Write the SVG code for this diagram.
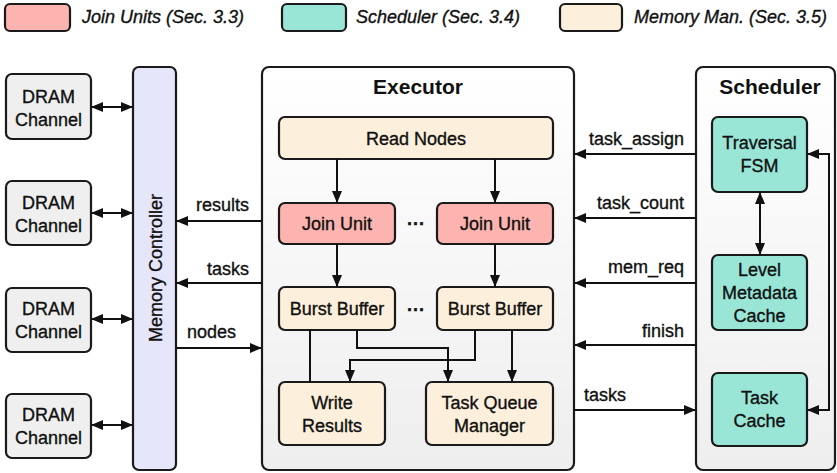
<svg xmlns="http://www.w3.org/2000/svg" width="837" height="473" viewBox="0 0 837 473">
  <defs>
    <linearGradient id="panelFill" x1="0" y1="0" x2="0" y2="1">
      <stop offset="0" stop-color="#ffffff"/>
      <stop offset="1" stop-color="#eeeeee"/>
    </linearGradient>
    <marker id="arrowEnd" viewBox="0 0 12 10" refX="11" refY="5" markerWidth="12" markerHeight="10" markerUnits="userSpaceOnUse" orient="auto">
      <path d="M0,0 L12,5 L0,10 Z" fill="#111"/>
    </marker>
    <marker id="arrowStart" viewBox="0 0 12 10" refX="1" refY="5" markerWidth="12" markerHeight="10" markerUnits="userSpaceOnUse" orient="auto">
      <path d="M12,0 L0,5 L12,10 Z" fill="#111"/>
    </marker>
  </defs>
  <style>
    .box { stroke: #1a1a1a; stroke-width: 2.2; }
    .panel { fill: url(#panelFill); stroke: #1a1a1a; stroke-width: 2.2; }
    .dram { fill: #efefef; }
    .mem { fill: #fcf0dc; }
    .join { fill: #fdb4b0; }
    .sched { fill: #99e6d7; }
    .ctrl { fill: #e6e6fa; }
    text { font-family: "Liberation Sans", Arial, Helvetica, sans-serif; font-size: 18px; fill: #111; stroke: #111; stroke-width: 0.35; }
    .node { text-anchor: middle; dominant-baseline: central; }
    .title { font-weight: bold; font-size: 21px; text-anchor: middle; stroke-width: 0; }
    .legend { font-style: italic; }
    .end { text-anchor: end; }
    .wire { fill: none; stroke: #111; stroke-width: 2; }
  </style>

  <!-- legend -->
  <g id="legend">
    <rect class="box join" x="5" y="4" width="65" height="27" rx="5"/>
    <text class="legend" x="82" y="23">Join Units (Sec. 3.3)</text>
    <rect class="box sched" x="282" y="4" width="64" height="27" rx="5"/>
    <text class="legend" x="356" y="23">Scheduler (Sec. 3.4)</text>
    <rect class="box mem" x="560" y="4" width="62" height="27" rx="5"/>
    <text class="legend" x="634" y="23">Memory Man. (Sec. 3.5)</text>
  </g>

  <!-- DRAM channels -->
  <g id="dram1">
    <rect class="box dram" x="6" y="74" width="85" height="65" rx="6"/>
    <text class="node" x="48.5" y="97">DRAM</text>
    <text class="node" x="48.5" y="120">Channel</text>
  </g>
  <g id="dram2">
    <rect class="box dram" x="6" y="181" width="85" height="64" rx="6"/>
    <text class="node" x="48.5" y="203">DRAM</text>
    <text class="node" x="48.5" y="226">Channel</text>
  </g>
  <g id="dram3">
    <rect class="box dram" x="6" y="288" width="85" height="64" rx="6"/>
    <text class="node" x="48.5" y="309">DRAM</text>
    <text class="node" x="48.5" y="332">Channel</text>
  </g>
  <g id="dram4">
    <rect class="box dram" x="6" y="394" width="85" height="64" rx="6"/>
    <text class="node" x="48.5" y="415">DRAM</text>
    <text class="node" x="48.5" y="438">Channel</text>
  </g>

  <!-- memory controller -->
  <g id="memory-controller">
    <rect class="box ctrl" x="133" y="67" width="43" height="403" rx="6"/>
    <text class="node" transform="translate(156 268) rotate(-90)">Memory Controller</text>
  </g>

  <!-- executor -->
  <g id="executor">
    <rect class="panel" x="262" y="67" width="312" height="403" rx="7"/>
    <text class="title" x="418" y="94">Executor</text>
  </g>
  <g id="read-nodes">
    <rect class="box mem" x="279" y="117" width="274" height="42" rx="6"/>
    <text class="node" x="416" y="139">Read Nodes</text>
  </g>
  <g id="join-unit-1">
    <rect class="box join" x="279" y="203" width="116" height="41" rx="6"/>
    <text class="node" x="337" y="224">Join Unit</text>
  </g>
  <text class="node" x="416" y="224" style="font-weight:bold">···</text>
  <g id="join-unit-2">
    <rect class="box join" x="437" y="203" width="116" height="41" rx="6"/>
    <text class="node" x="495" y="224">Join Unit</text>
  </g>
  <g id="burst-buffer-1">
    <rect class="box mem" x="279" y="287" width="116" height="43" rx="6"/>
    <text class="node" x="337" y="309">Burst Buffer</text>
  </g>
  <text class="node" x="416" y="310" style="font-weight:bold">···</text>
  <g id="burst-buffer-2">
    <rect class="box mem" x="437" y="287" width="116" height="43" rx="6"/>
    <text class="node" x="495" y="309">Burst Buffer</text>
  </g>
  <g id="write-results">
    <rect class="box mem" x="279" y="382" width="106" height="63" rx="6"/>
    <text class="node" x="332" y="403">Write</text>
    <text class="node" x="332" y="426">Results</text>
  </g>
  <g id="task-queue-manager">
    <rect class="box mem" x="426" y="382" width="127" height="63" rx="6"/>
    <text class="node" x="489.5" y="403">Task Queue</text>
    <text class="node" x="489.5" y="426">Manager</text>
  </g>

  <!-- scheduler -->
  <g id="scheduler">
    <rect class="panel" x="696" y="67" width="139" height="403" rx="7"/>
    <text class="title" x="770" y="94">Scheduler</text>
  </g>
  <g id="traversal-fsm">
    <rect class="box sched" x="712" y="117" width="95" height="75" rx="6"/>
    <text class="node" x="759.5" y="143">Traversal</text>
    <text class="node" x="759.5" y="166">FSM</text>
  </g>
  <g id="level-metadata-cache">
    <rect class="box sched" x="712" y="255" width="95" height="75" rx="6"/>
    <text class="node" x="759.5" y="270">Level</text>
    <text class="node" x="759.5" y="293">Metadata</text>
    <text class="node" x="759.5" y="316">Cache</text>
  </g>
  <g id="task-cache">
    <rect class="box sched" x="712" y="373" width="95" height="73" rx="6"/>
    <text class="node" x="759.5" y="398">Task</text>
    <text class="node" x="759.5" y="421">Cache</text>
  </g>

  <!-- connectors -->
  <g id="connectors">
    <!-- DRAM to memory controller -->
    <line class="wire" x1="92" y1="107" x2="132" y2="107" marker-start="url(#arrowStart)" marker-end="url(#arrowEnd)"/>
    <line class="wire" x1="92" y1="213" x2="132" y2="213" marker-start="url(#arrowStart)" marker-end="url(#arrowEnd)"/>
    <line class="wire" x1="92" y1="319" x2="132" y2="319" marker-start="url(#arrowStart)" marker-end="url(#arrowEnd)"/>
    <line class="wire" x1="92" y1="425" x2="132" y2="425" marker-start="url(#arrowStart)" marker-end="url(#arrowEnd)"/>

    <!-- executor to memory controller -->
    <line class="wire" x1="262" y1="221" x2="177" y2="221" marker-end="url(#arrowEnd)"/>
    <text class="end" x="249" y="211">results</text>
    <line class="wire" x1="262" y1="283" x2="177" y2="283" marker-end="url(#arrowEnd)"/>
    <text class="end" x="249" y="275">tasks</text>
    <line class="wire" x1="176" y1="348" x2="261" y2="348" marker-end="url(#arrowEnd)"/>
    <text x="187" y="338">nodes</text>

    <!-- inside executor -->
    <line class="wire" x1="337" y1="159" x2="337" y2="202" marker-end="url(#arrowEnd)"/>
    <line class="wire" x1="495" y1="159" x2="495" y2="202" marker-end="url(#arrowEnd)"/>
    <line class="wire" x1="337" y1="244" x2="337" y2="286" marker-end="url(#arrowEnd)"/>
    <line class="wire" x1="495" y1="244" x2="495" y2="286" marker-end="url(#arrowEnd)"/>
    <line class="wire" x1="310" y1="330" x2="310" y2="382"/>
    <polyline class="wire" points="357,330 357,348 448,348 448,381" marker-end="url(#arrowEnd)"/>
    <polyline class="wire" points="475,330 475,360 350,360 350,381" marker-end="url(#arrowEnd)"/>
    <line class="wire" x1="512" y1="330" x2="512" y2="381" marker-end="url(#arrowEnd)"/>

    <!-- scheduler to executor -->
    <line class="wire" x1="696" y1="154" x2="575" y2="154" marker-end="url(#arrowEnd)"/>
    <text class="end" x="684" y="145">task_assign</text>
    <line class="wire" x1="696" y1="218" x2="575" y2="218" marker-end="url(#arrowEnd)"/>
    <text class="end" x="684" y="209">task_count</text>
    <line class="wire" x1="696" y1="283" x2="575" y2="283" marker-end="url(#arrowEnd)"/>
    <text class="end" x="684" y="273">mem_req</text>
    <line class="wire" x1="696" y1="345" x2="575" y2="345" marker-end="url(#arrowEnd)"/>
    <text class="end" x="684" y="337">finish</text>
    <line class="wire" x1="574" y1="410" x2="695" y2="410" marker-end="url(#arrowEnd)"/>
    <text x="584" y="401">tasks</text>

    <!-- inside scheduler -->
    <line class="wire" x1="760" y1="193" x2="760" y2="254" marker-start="url(#arrowStart)" marker-end="url(#arrowEnd)"/>
    <polyline class="wire" points="808,154 829,154 829,410 808,410" marker-start="url(#arrowStart)" marker-end="url(#arrowEnd)"/>
  </g>
</svg>
